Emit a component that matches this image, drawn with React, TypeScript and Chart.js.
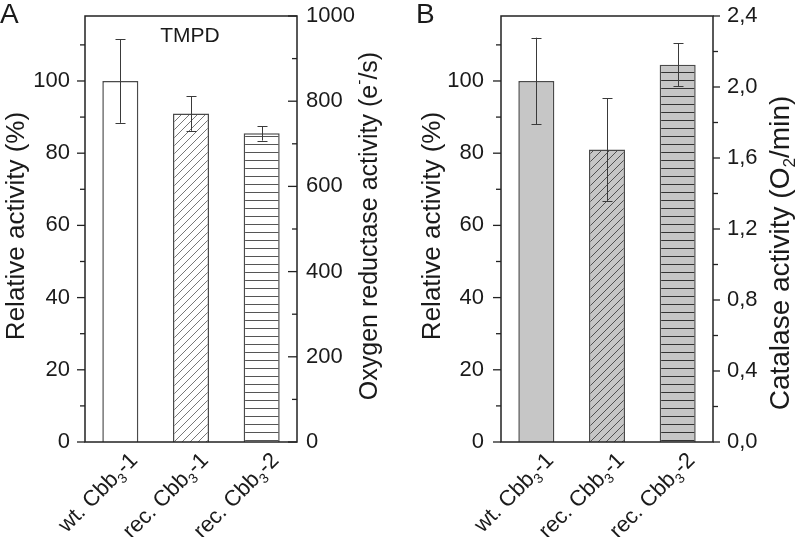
import React, { useEffect, useRef } from 'react';
import { Chart, registerables } from 'chart.js';
Chart.register(...registerables);

// ---------- data ----------
const categories = ['wt. Cbb_3-1', 'rec. Cbb_3-1', 'rec. Cbb_3-2'];
const tmpdActivity = [100, 91, 85.5];
const tmpdError = [11.6, 4.8, 2.0];
const catalaseActivity = [100, 81, 104.5];
const catalaseError = [12, 14.2, 6];
const leftTicks = [0, 20, 40, 60, 80, 100];
const leftMinor = [10, 30, 50, 70, 90, 110];
const leftMax = 118;
const oxygenTicks = [0, 200, 400, 600, 800, 1000];
const oxygenMinor = [100, 300, 500, 700, 900];
const oxygenMax = 1000;
const catalaseTicks = [0, 0.4, 0.8, 1.2, 1.6, 2.0, 2.4];
const catalaseMinor = [0.2, 0.6, 1.0, 1.4, 1.8, 2.2];
const catalaseMax = 2.4;
const hatchKinds = ['none', 'diag', 'horiz'];

const FONT = "'Liberation Sans', Arial, Helvetica, sans-serif";
const INK = '#1a1a1a';

type Panel = {
  letter: string;
  values: number[];
  errors: number[];
  fill: string;
  lineColor: string;
  rightTicks: number[];
  rightMinor: number[];
  rightMax: number;
  rightFmt: (v: number) => string;
  rightTitle: string;
  rightInward: boolean;
  inset?: string;
  leftWidth: number;
  rightWidth: number;
  leftPad: number;
  rightPad: number;
  leftTitleX: number;
  leftTitleY: number;
  leftTitleSize: number;
  rightTitleX: number;
  rightTitleY: number;
  rightTitleSize: number;
  letterX: number;
};

const panels: Panel[] = [
  {
    letter: 'A',
    values: tmpdActivity,
    errors: tmpdError,
    fill: '#ffffff',
    lineColor: '#555555',
    rightTicks: oxygenTicks,
    rightMinor: oxygenMinor,
    rightMax: oxygenMax,
    rightFmt: (v) => String(v),
    rightTitle: 'Oxygen reductase activity (e^-/s)',
    rightInward: true,
    inset: 'TMPD',
    leftWidth: 85,
    rightWidth: 103,
    leftPad: 15,
    rightPad: 9,
    leftTitleX: 17,
    leftTitleY: 226,
    leftTitleSize: 26,
    rightTitleX: 370,
    rightTitleY: 226,
    rightTitleSize: 25,
    letterX: 0,
  },
  {
    letter: 'B',
    values: catalaseActivity,
    errors: catalaseError,
    fill: '#c6c6c6',
    lineColor: '#333333',
    rightTicks: catalaseTicks,
    rightMinor: catalaseMinor,
    rightMax: catalaseMax,
    rightFmt: (v) => v.toFixed(1).replace('.', ','),
    rightTitle: 'Catalase activity (O_2/min)',
    rightInward: false,
    leftWidth: 101,
    rightWidth: 87,
    leftPad: 17,
    rightPad: 14,
    leftTitleX: 33,
    leftTitleY: 226,
    leftTitleSize: 26,
    rightTitleX: 381,
    rightTitleY: 253,
    rightTitleSize: 28,
    letterX: 16,
  },
];

function makeFill(kind: string, bg: string, line: string): any {
  if (kind === 'none') return bg;
  const c = document.createElement('canvas');
  const s = 8;
  c.width = s;
  c.height = s;
  const g = c.getContext('2d')!;
  g.fillStyle = bg;
  g.fillRect(0, 0, s, s);
  g.strokeStyle = line;
  if (kind === 'diag') {
    g.lineWidth = 0.8;
    g.beginPath();
    g.moveTo(-1, s + 1);
    g.lineTo(s + 1, -1);
    g.moveTo(-1, 1);
    g.lineTo(1, -1);
    g.moveTo(s - 1, s + 1);
    g.lineTo(s + 1, s - 1);
    g.stroke();
  } else {
    g.lineWidth = 1;
    g.beginPath();
    g.moveTo(0, 0.5);
    g.lineTo(s, 0.5);
    g.stroke();
  }
  return g.createPattern(c, 'repeat');
}

function parseRich(s: string) {
  const parts: { t: string; k: number }[] = [];
  let buf = '';
  for (let i = 0; i < s.length; i++) {
    const c = s[i];
    if ((c === '_' || c === '^') && i + 1 < s.length) {
      if (buf) parts.push({ t: buf, k: 0 });
      buf = '';
      parts.push({ t: s[i + 1], k: c === '_' ? 1 : -1 });
      i++;
    } else buf += c;
  }
  if (buf) parts.push({ t: buf, k: 0 });
  return parts;
}

function drawRich(
  ctx: CanvasRenderingContext2D,
  s: string,
  x: number,
  y: number,
  rot: number,
  size: number,
  align: 'left' | 'center' | 'right'
) {
  const parts = parseRich(s);
  const small = size * 0.62;
  const f = (sz: number) => `${sz}px ${FONT}`;
  const widths = parts.map((p) => {
    ctx.font = f(p.k ? small : size);
    return ctx.measureText(p.t).width;
  });
  const total = widths.reduce((a, b) => a + b, 0);
  ctx.save();
  ctx.translate(x, y);
  ctx.rotate(rot);
  ctx.textBaseline = 'middle';
  ctx.textAlign = 'left';
  ctx.fillStyle = INK;
  let cx = align === 'right' ? -total : align === 'center' ? -total / 2 : 0;
  parts.forEach((p, i) => {
    ctx.font = f(p.k ? small : size);
    const dy = p.k === 1 ? size * 0.34 : p.k === -1 ? -size * 0.4 : 0;
    ctx.fillText(p.t, cx, dy);
    cx += widths[i];
  });
  ctx.restore();
}

function makePlugin(p: Panel) {
  return {
    id: 'panelDecor' + p.letter,
    afterDatasetsDraw(chart: any) {
      const ctx: CanvasRenderingContext2D = chart.ctx;
      const a = chart.chartArea;
      const xs = chart.scales.x;
      const ys = chart.scales.y;
      const y2 = chart.scales.y2;
      ctx.save();
      // error bars
      ctx.strokeStyle = '#3a3a3a';
      ctx.lineWidth = 1;
      p.values.forEach((v, i) => {
        const cx = Math.round(xs.getPixelForValue(i)) + 0.5;
        const t = ys.getPixelForValue(v + p.errors[i]);
        const b = ys.getPixelForValue(v - p.errors[i]);
        ctx.beginPath();
        ctx.moveTo(cx, t);
        ctx.lineTo(cx, b);
        ctx.moveTo(cx - 5, Math.round(t) + 0.5);
        ctx.lineTo(cx + 5, Math.round(t) + 0.5);
        ctx.moveTo(cx - 5, Math.round(b) + 0.5);
        ctx.lineTo(cx + 5, Math.round(b) + 0.5);
        ctx.stroke();
      });
      // frame
      ctx.strokeStyle = '#222';
      ctx.lineWidth = 1.5;
      ctx.strokeRect(a.left, a.top, a.right - a.left, a.bottom - a.top);
      // ticks
      ctx.lineWidth = 1.3;
      const tick = (x0: number, x1: number, yy: number) => {
        ctx.beginPath();
        ctx.moveTo(x0, yy);
        ctx.lineTo(x1, yy);
        ctx.stroke();
      };
      leftTicks.forEach((v) => tick(a.left - 8, a.left, ys.getPixelForValue(v)));
      leftMinor.forEach((v) => tick(a.left - 5, a.left, ys.getPixelForValue(v)));
      const dir = p.rightInward ? -1 : 1;
      p.rightTicks.forEach((v) => tick(a.right, a.right + dir * (p.rightInward ? 9 : 7), y2.getPixelForValue(v)));
      p.rightMinor.forEach((v) => tick(a.right, a.right + dir * 5, y2.getPixelForValue(v)));
      ctx.restore();
    },
    afterDraw(chart: any) {
      const ctx: CanvasRenderingContext2D = chart.ctx;
      const a = chart.chartArea;
      const xs = chart.scales.x;
      ctx.save();
      // panel letter
      ctx.fillStyle = INK;
      ctx.font = `28px ${FONT}`;
      ctx.textAlign = 'left';
      ctx.textBaseline = 'alphabetic';
      ctx.fillText(p.letter, p.letterX, 23);
      // inset label
      if (p.inset) {
        ctx.font = `21px ${FONT}`;
        ctx.textAlign = 'center';
        ctx.textBaseline = 'middle';
        ctx.fillText(p.inset, (a.left + a.right) / 2 - 1, 36);
      }
      ctx.restore();
      // axis titles
      drawRich(ctx, 'Relative activity (%)', p.leftTitleX, p.leftTitleY, -Math.PI / 2, p.leftTitleSize, 'center');
      drawRich(ctx, p.rightTitle, p.rightTitleX, p.rightTitleY, -Math.PI / 2, p.rightTitleSize, 'center');
      // category labels
      categories.forEach((c, i) => {
        const cx = xs.getPixelForValue(i);
        drawRich(ctx, c, cx + 14, a.bottom + 15, -Math.PI / 4, 22, 'right');
      });
    },
  };
}

function makeConfig(p: Panel): any {
  return {
    type: 'bar',
    data: {
      labels: categories,
      datasets: [
        {
          data: p.values,
          backgroundColor: hatchKinds.map((k) => makeFill(k, p.fill, p.lineColor)),
          borderColor: '#4a4a4a',
          borderWidth: 1.5,
          barPercentage: 0.51,
          categoryPercentage: 1,
          yAxisID: 'y',
        },
      ],
    },
    options: {
      responsive: false,
      animation: false,
      devicePixelRatio: 1,
      layout: { padding: { top: 16, left: 0, right: 0, bottom: 0 } },
      plugins: { legend: { display: false }, tooltip: { enabled: false } },
      scales: {
        x: {
          type: 'category',
          grid: { display: false, drawTicks: false },
          border: { display: false },
          ticks: { display: false },
          afterFit: (s: any) => {
            s.height = 95;
            s.paddingLeft = 0;
            s.paddingRight = 0;
          },
        },
        y: {
          type: 'linear',
          position: 'left',
          min: 0,
          max: leftMax,
          grid: { display: false, drawTicks: false },
          border: { display: false },
          ticks: {
            autoSkip: false,
            padding: p.leftPad,
            color: INK,
            font: { size: 22, family: FONT },
          },
          afterBuildTicks: (s: any) => {
            s.ticks = leftTicks.map((v) => ({ value: v }));
          },
          afterFit: (s: any) => {
            s.width = p.leftWidth;
            s.paddingTop = 0;
            s.paddingBottom = 0;
          },
        },
        y2: {
          type: 'linear',
          position: 'right',
          min: 0,
          max: p.rightMax,
          grid: { display: false, drawTicks: false },
          border: { display: false },
          ticks: {
            autoSkip: false,
            padding: p.rightPad,
            color: INK,
            font: { size: 22, family: FONT },
            callback: (v: any) => p.rightFmt(Number(v)),
          },
          afterBuildTicks: (s: any) => {
            s.ticks = p.rightTicks.map((v) => ({ value: v }));
          },
          afterFit: (s: any) => {
            s.width = p.rightWidth;
            s.paddingTop = 0;
            s.paddingBottom = 0;
          },
        },
      },
    },
    plugins: [makePlugin(p)],
  };
}

function PanelChart({ panel, left }: { panel: Panel; left: number }) {
  const ref = useRef<HTMLCanvasElement>(null);
  useEffect(() => {
    if (!ref.current) return;
    const chart = new Chart(ref.current, makeConfig(panel));
    return () => chart.destroy();
  }, [panel]);
  return (
    <div style={{ position: 'absolute', left, top: 0, width: 400, height: 537 }}>
      <canvas ref={ref} width={400} height={537} style={{ width: 400, height: 537, display: 'block' }} />
    </div>
  );
}

export default function App() {
  return (
    <div style={{ position: 'absolute', left: 0, top: 0, width: 800, height: 537, background: '#ffffff', overflow: 'hidden' }}>
      <PanelChart panel={panels[0]} left={0} />
      <PanelChart panel={panels[1]} left={400} />
    </div>
  );
}
